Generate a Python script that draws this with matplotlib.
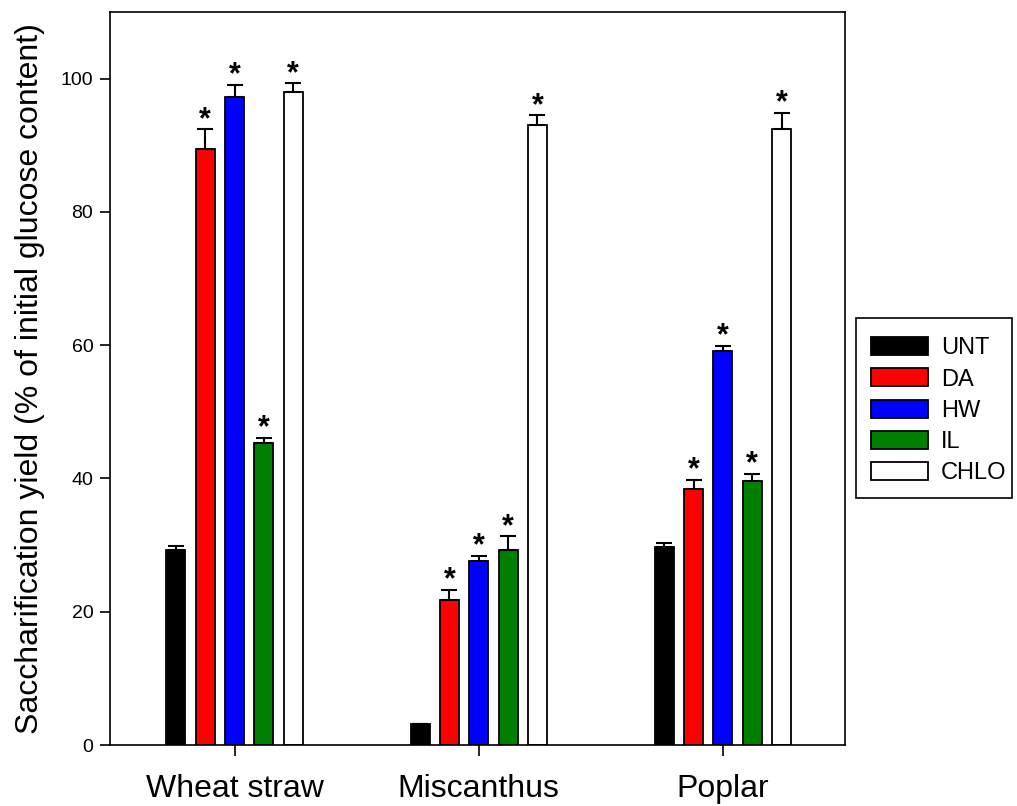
import matplotlib
matplotlib.use('Agg')
import matplotlib.pyplot as plt
from matplotlib.patches import Rectangle
import numpy as np

plt.rcParams['font.family'] = ['Liberation Sans', 'DejaVu Sans']

# data
feedstocks = ['Wheat straw', 'Miscanthus', 'Poplar']
treatments = ['UNT', 'DA', 'HW', 'IL', 'CHLO']
colors = ['black', '#ff0000', '#0000ff', '#008000', 'white']

means = {
    'UNT': [29.3, 3.1, 29.7],
    'DA': [89.5, 21.7, 38.4],
    'HW': [97.2, 27.6, 59.1],
    'IL': [45.3, 29.3, 39.6],
    'CHLO': [98.0, 93.1, 92.5],
}
errors = {
    'UNT': [0.5, 0.0, 0.6],
    'DA': [2.9, 1.6, 1.4],
    'HW': [1.9, 0.8, 0.8],
    'IL': [0.8, 2.0, 1.1],
    'CHLO': [1.3, 1.4, 2.4],
}
significant = {
    'UNT': [False, False, False],
    'DA': [True, True, True],
    'HW': [True, True, True],
    'IL': [True, True, True],
    'CHLO': [True, True, True],
}

W, H = 1017, 806
fig = plt.figure(figsize=(W / 100, H / 100), dpi=100)
ax = fig.add_axes([110 / W, 61 / H, 735 / W, 733 / H])

x = np.arange(len(feedstocks))
step = 0.12
width = 0.078

for i, tr in enumerate(treatments):
    pos = x + (i - 2) * step
    m = np.array(means[tr])
    e = np.array(errors[tr])
    ax.bar(pos, m, width, color=colors[i], edgecolor='black',
           linewidth=1.3, label=tr, zorder=2)
    ax.errorbar(pos, m, yerr=[np.zeros_like(e), e], fmt='none',
                ecolor='black', elinewidth=1.5, capsize=5.5, capthick=1.5,
                zorder=3)
    for p, v, err, s in zip(pos, m, e, significant[tr]):
        if s:
            # star sits just above the error bar cap
            ax.annotate('*', (p, v + err), xytext=(0, -4),
                        textcoords='offset points', ha='center',
                        va='bottom', fontsize=22, fontweight='bold')

ax.set_xlim(-0.51, 2.5)
ax.set_ylim(0, 110)
ax.set_yticks([0, 20, 40, 60, 80, 100])
ax.set_xticks(x)
ax.set_xticklabels(feedstocks, fontsize=23)
ax.tick_params(axis='y', labelsize=14, direction='out', length=7,
               width=1.2, pad=5)
ax.tick_params(axis='x', direction='out', length=8, width=1.2, pad=13)
for sp in ax.spines.values():
    sp.set_linewidth(1.2)
ax.set_ylabel('Saccharification yield (% of initial glucose content)',
              fontsize=23)
ax.yaxis.set_label_coords(-0.088, 0.5)

# legend entries without frame, box drawn separately
leg = ax.legend(loc='center left', bbox_to_anchor=(1.0354, 0.456),
                borderaxespad=0, fontsize=17, frameon=False,
                handlelength=2.4, handleheight=0.8,
                borderpad=0, labelspacing=0.38, handletextpad=0.55)
box = Rectangle((856 / W, (H - 498) / H), 156 / W, 180 / H,
                transform=fig.transFigure, fill=False, edgecolor='black',
                linewidth=1.2)
fig.patches.append(box)

fig.savefig('out.png', dpi=100)
